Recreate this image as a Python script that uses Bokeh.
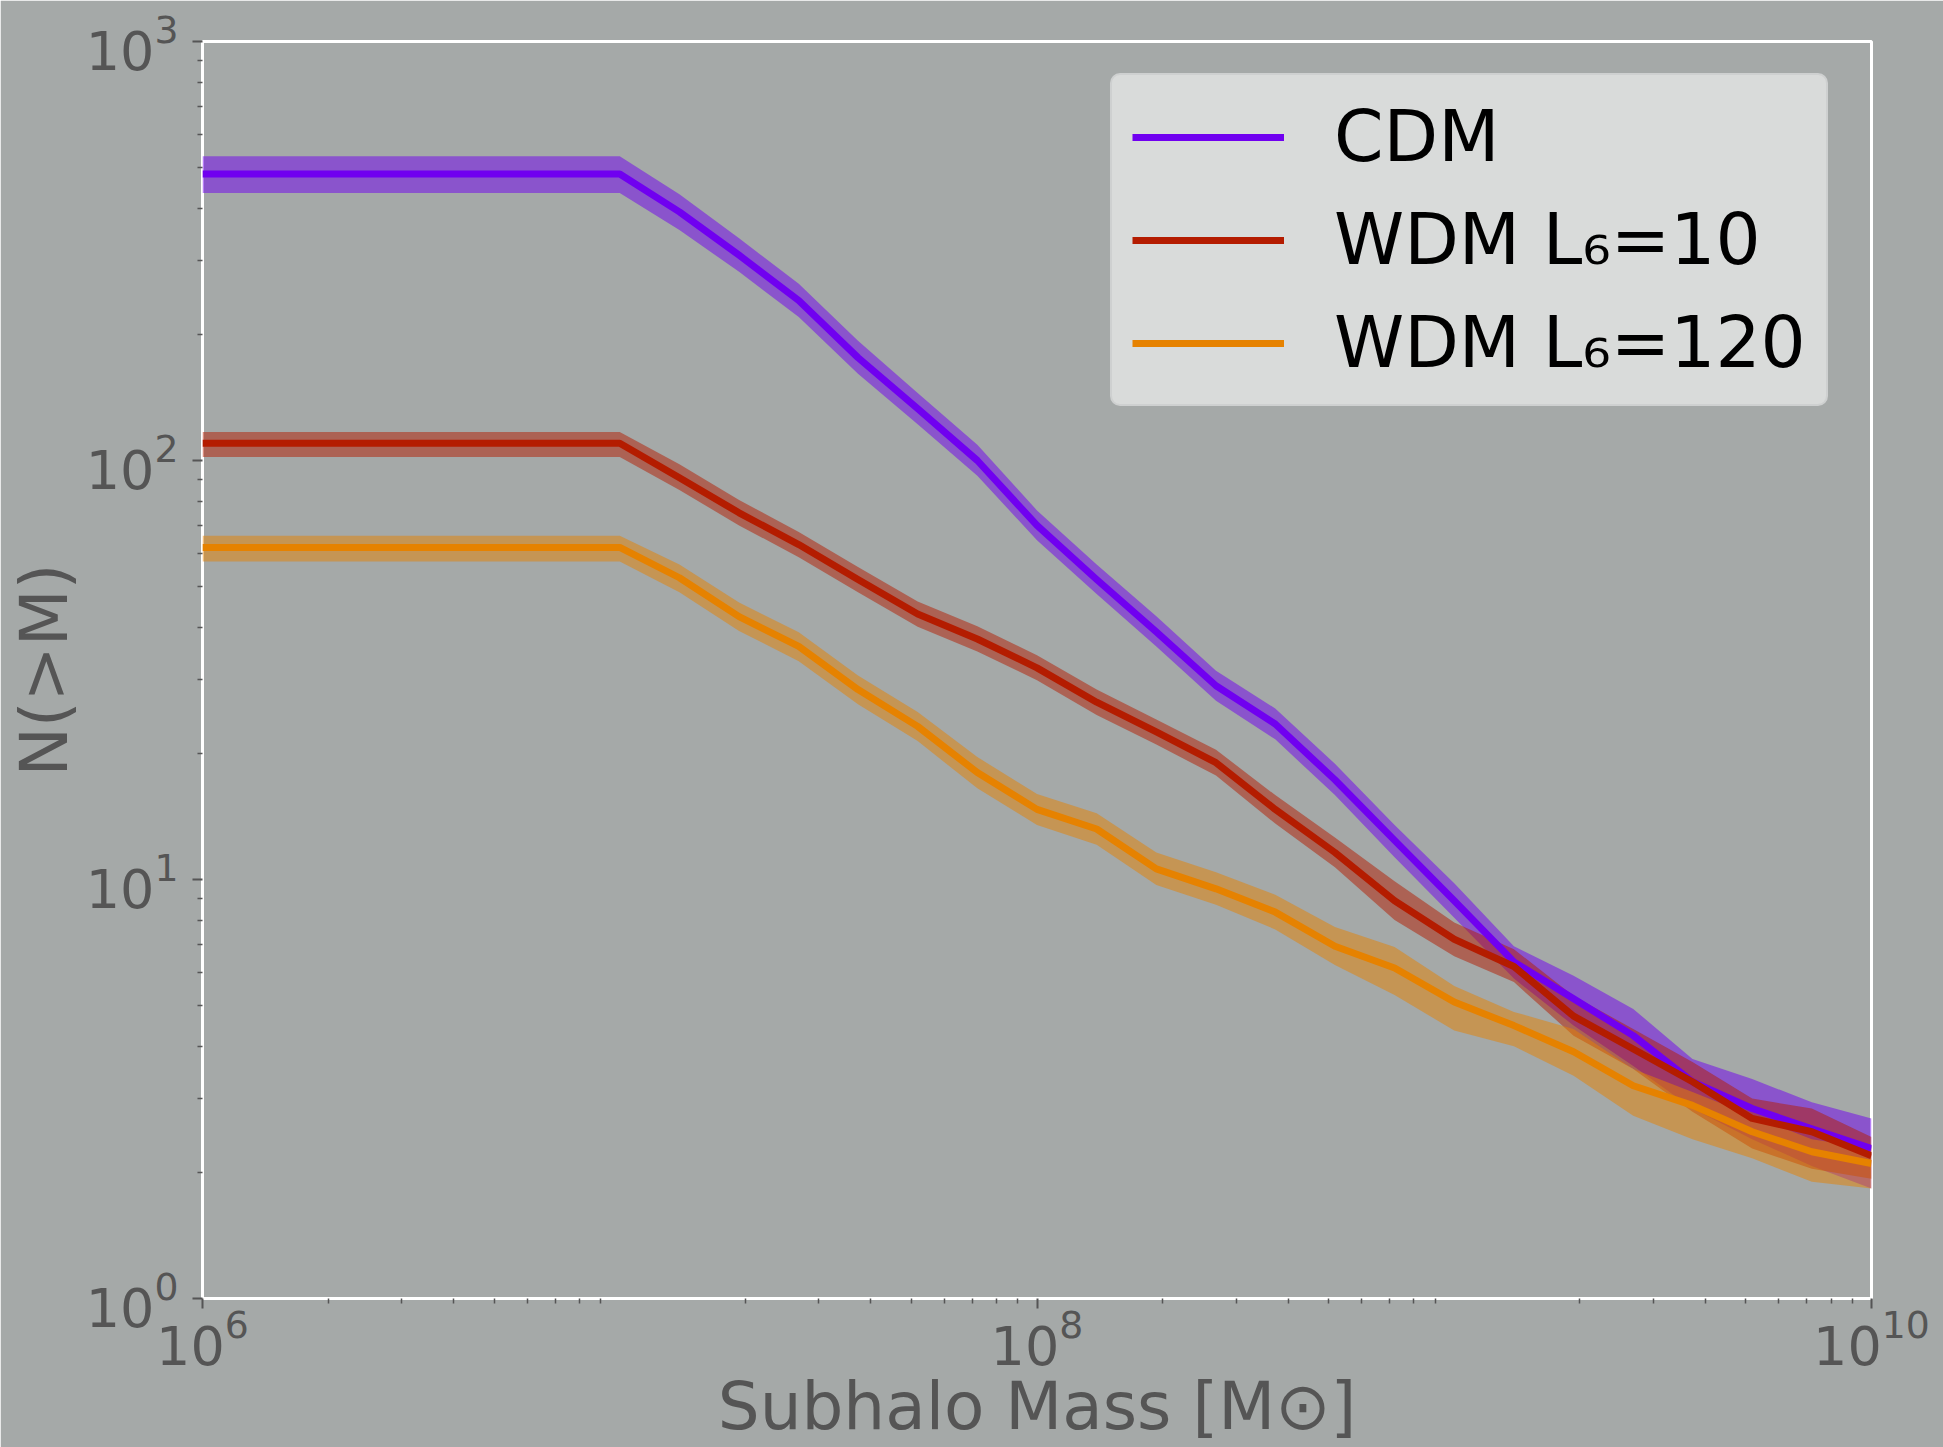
from bokeh.plotting import figure
from bokeh.models import FixedTicker, Legend, LegendItem
from bokeh.embed import file_html
from bokeh.resources import INLINE

# ---- data ----
log_mass = [6.0, 6.143, 6.286, 6.429, 6.571, 6.714, 6.857, 7.0, 7.143, 7.286,
            7.429, 7.571, 7.714, 7.857, 8.0, 8.143, 8.286, 8.429, 8.571, 8.714,
            8.857, 9.0, 9.143, 9.286, 9.429, 9.571, 9.714, 9.857, 10.0]
mass = [10 ** v for v in log_mass]

cdm = [483, 483, 483, 483, 483, 483, 483, 483, 392, 309, 241, 176, 133, 100, 70,
       52, 39, 29, 23.5, 17.3, 12.4, 8.9, 6.36, 5.19, 4.24, 3.29, 2.84, 2.54, 2.28]
cdm_lo = [435, 435, 435, 435, 435, 435, 435, 435, 355, 282, 220, 161, 122, 92, 64.5,
          48, 36, 26.7, 21.6, 15.9, 11.3, 8.1, 5.8, 4.48, 3.59, 2.84, 2.40, 2.07, 1.83]
cdm_hi = [532, 532, 532, 532, 532, 532, 532, 532, 432, 339, 264, 193, 145, 109, 76,
          56.5, 42.5, 31.5, 25.6, 18.9, 13.5, 9.8, 6.93, 5.89, 4.91, 3.73, 3.34, 2.94, 2.69]

wdm10 = [110, 110, 110, 110, 110, 110, 110, 110, 91, 75, 63, 52, 43, 37.5, 32,
         26.5, 22.5, 19, 14.7, 11.6, 8.9, 7.2, 6.2, 4.72, 3.94, 3.29, 2.69, 2.50, 2.19]
wdm10_lo = [102, 102, 102, 102, 102, 102, 102, 102, 85, 70, 58.8, 48.5, 40.1, 35, 29.9,
            24.7, 21, 17.7, 13.6, 10.7, 8.0, 6.56, 5.69, 4.24, 3.53, 2.79, 2.28, 2.04, 1.93]
wdm10_hi = [117, 117, 117, 117, 117, 117, 117, 117, 98, 80.5, 67.5, 55.7, 46.1, 40.2, 34.3,
            28.4, 24.1, 20.4, 15.9, 12.6, 9.9, 7.9, 6.82, 5.27, 4.40, 3.67, 3.0, 2.84, 2.43]

wdm120 = [62, 62, 62, 62, 62, 62, 62, 62, 52.5, 42.4, 36, 28.4, 23.2, 18, 14.7,
          13.2, 10.6, 9.5, 8.36, 6.93, 6.15, 5.1, 4.48, 3.88, 3.22, 2.89, 2.50, 2.24, 2.10]
wdm120_lo = [57.4, 57.4, 57.4, 57.4, 57.4, 57.4, 57.4, 57.4, 48.5, 39.2, 33.2, 26.2, 21.4, 16.5, 13.5,
             12.1, 9.7, 8.7, 7.6, 6.25, 5.3, 4.36, 4.0, 3.4, 2.73, 2.40, 2.16, 1.90, 1.83]
wdm120_hi = [66.1, 66.1, 66.1, 66.1, 66.1, 66.1, 66.1, 66.1, 56.5, 45.8, 38.9, 30.7, 25.1, 19.6, 16,
             14.4, 11.6, 10.4, 9.2, 7.7, 6.9, 5.57, 4.83, 4.4, 3.53, 3.11, 2.73, 2.40, 2.28]

labels = ["CDM", "WDM L\u2086=10", "WDM L\u2086=120"]
colors = ["#7000f0", "#b41c00", "#e68200"]

x_major = [1e6, 1e8, 1e10]
y_major = [1, 10, 100, 1000]
x_title = "Subhalo Mass [M\u2299]"
y_title = "N(>M)"

BG = "#a5a9a8"
GREY = "#555555"
FONT = "DejaVu Sans"

p = figure(x_axis_type="log", y_axis_type="log",
           x_range=(1e6, 1e10), y_range=(1, 1000),
           width=1943, height=1447,
           min_border_left=202, min_border_top=41,
           min_border_right=72, min_border_bottom=147,
           output_backend="svg", toolbar_location=None,
           background_fill_color=BG, border_fill_color=BG)
p.outline_line_color = "white"
p.outline_line_width = 3
p.grid.visible = False

series = [(cdm, cdm_lo, cdm_hi), (wdm10, wdm10_lo, wdm10_hi), (wdm120, wdm120_lo, wdm120_hi)]
for (c, lo, hi), col in zip(series, colors):
    p.varea(x=mass, y1=lo, y2=hi, fill_color=col, fill_alpha=0.5)

renderers = []
for (c, lo, hi), col in zip(series, colors):
    r = p.line(mass, c, line_color=col, line_width=7, line_join="round")
    renderers.append(r)

# ticks
x_minor = [m * 10 ** d for d in range(6, 10) for m in range(2, 10)]
y_minor = [m * 10 ** d for d in range(0, 3) for m in range(2, 10)]
p.xaxis.ticker = FixedTicker(ticks=x_major, minor_ticks=x_minor)
p.yaxis.ticker = FixedTicker(ticks=y_major, minor_ticks=y_minor)

for ax in (p.xaxis, p.yaxis):
    ax.axis_line_color = None
    ax.major_tick_line_color = GREY
    ax.major_tick_line_width = 2
    ax.major_tick_out = 10
    ax.major_tick_in = 0
    ax.minor_tick_line_color = GREY
    ax.minor_tick_line_width = 1.5
    ax.minor_tick_out = 5
    ax.minor_tick_in = 0
    ax.major_label_text_font = FONT
    ax.major_label_text_font_size = "54px"
    ax.major_label_text_color = GREY
    ax.axis_label_text_font = FONT
    ax.axis_label_text_font_size = "66px"
    ax.axis_label_text_font_style = "normal"
    ax.axis_label_text_color = GREY
    ax.axis_label_standoff = 0

p.xaxis.axis_label = x_title
p.yaxis.axis_label = y_title
p.xaxis.major_label_standoff = 0
p.yaxis.major_label_standoff = 14

legend = Legend(items=[LegendItem(label=lab, renderers=[r]) for lab, r in zip(labels, renderers)],
                location=(908, 892))
legend.padding = 20
legend.spacing = 20
legend.glyph_width = 152
legend.glyph_height = 60
legend.label_height = 60
legend.label_standoff = 50
legend.label_text_font = FONT
legend.label_text_font_size = "71px"
legend.label_text_color = "black"
legend.background_fill_color = "#d9dbda"
legend.background_fill_alpha = 1.0
legend.border_line_color = "#c4c6c5"
legend.border_line_width = 2
try:
    legend.border_radius = 10
except Exception:
    pass
p.add_layout(legend)

html = file_html(p, INLINE, title="Subhalo mass function")
html = html.replace("<body>", '<body style="background-color:%s;">' % BG, 1)
open("out.html", "w").write(html)
